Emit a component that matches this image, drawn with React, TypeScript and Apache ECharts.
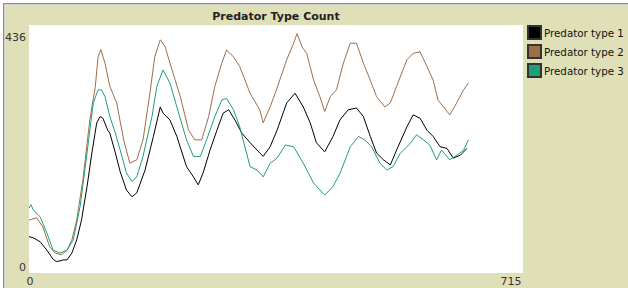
import React, { useEffect, useRef } from "react";
import * as echarts from "echarts";

const title = "Predator Type Count";
const seriesNames = ["Predator type 1", "Predator type 2", "Predator type 3"];
const seriesColors = ["#000000", "#9d6e48", "#1d9f78"];

const xTicks = [0, 715];
const yTicks = [0, 436];

const type1Times = [0, 6, 16, 26, 35, 40, 50, 55, 62, 69, 76, 84, 91, 98, 103, 107, 114, 117, 125, 132, 141, 149, 156, 168, 180, 190, 194, 204, 214, 228, 238, 245, 252, 262, 272, 281, 289, 298, 308, 320, 334, 339, 349, 359, 373, 385, 397, 407, 416, 428, 440, 450, 462, 474, 484, 494, 503, 513, 523, 532, 547, 556, 566, 576, 585, 595, 605, 614, 624, 634];
const type1Counts = [64, 62, 55, 40, 24, 20, 23, 23, 35, 58, 93, 152, 211, 264, 275, 272, 251, 246, 211, 178, 146, 134, 141, 181, 240, 292, 281, 269, 240, 187, 169, 155, 176, 216, 251, 281, 287, 269, 246, 229, 211, 205, 222, 251, 299, 316, 292, 264, 229, 213, 240, 269, 287, 290, 275, 240, 211, 199, 190, 216, 257, 278, 272, 251, 240, 222, 219, 202, 207, 219];

const type2Times = [0, 11, 20, 30, 38, 47, 55, 62, 69, 78, 88, 96, 100, 104, 110, 117, 127, 137, 146, 156, 165, 175, 182, 190, 197, 204, 219, 231, 240, 250, 260, 269, 279, 286, 296, 305, 320, 334, 339, 349, 359, 373, 383, 388, 395, 402, 412, 421, 428, 436, 445, 455, 465, 474, 484, 494, 503, 515, 523, 532, 547, 556, 566, 576, 585, 592, 600, 609, 619, 629, 636];
const type2Counts = [93, 97, 81, 46, 35, 32, 40, 58, 93, 164, 269, 328, 380, 393, 369, 328, 299, 234, 193, 199, 234, 316, 380, 410, 398, 369, 310, 251, 234, 234, 275, 328, 369, 392, 380, 363, 316, 287, 264, 292, 325, 375, 404, 421, 398, 386, 339, 310, 284, 310, 322, 369, 404, 404, 369, 339, 310, 292, 299, 328, 375, 386, 389, 363, 339, 304, 292, 278, 299, 322, 334];

const type3Times = [0, 3, 6, 16, 26, 35, 45, 55, 64, 74, 84, 93, 100, 105, 110, 117, 125, 132, 141, 149, 156, 165, 178, 185, 194, 204, 214, 228, 238, 248, 257, 269, 279, 286, 296, 305, 320, 330, 339, 349, 359, 371, 383, 397, 412, 428, 440, 450, 465, 477, 486, 496, 508, 518, 527, 537, 552, 561, 571, 580, 590, 597, 609, 619, 629, 636];
const type3Counts = [114, 120, 111, 99, 70, 40, 35, 40, 58, 117, 211, 299, 322, 322, 310, 275, 246, 216, 176, 161, 169, 205, 275, 328, 357, 334, 292, 234, 205, 205, 234, 275, 304, 307, 287, 257, 187, 181, 169, 193, 202, 225, 222, 193, 158, 137, 152, 175, 222, 240, 234, 222, 193, 181, 187, 210, 228, 243, 234, 225, 199, 216, 199, 207, 216, 234];

const timesList = [type1Times, type2Times, type3Times];
const countsList = [type1Counts, type2Counts, type3Counts];

const FONT = "DejaVu Sans";

export default function App() {
  const ref = useRef<HTMLDivElement>(null);
  useEffect(() => {
    if (!ref.current) return;
    const chart = echarts.init(ref.current, undefined, { renderer: "svg" });
    const gridLeft = 29, gridTop = 25, gridW = 494, gridH = 248;
    chart.setOption({
      animation: false,
      backgroundColor: "transparent",
      textStyle: { fontFamily: FONT },
      grid: {
        left: gridLeft,
        top: gridTop,
        width: gridW,
        height: gridH,
        show: true,
        backgroundColor: "#ffffff",
        borderWidth: 0,
      },
      xAxis: {
        type: "value",
        min: xTicks[0],
        max: xTicks[1],
        interval: xTicks[1] - xTicks[0],
        axisLine: { show: false },
        axisTick: { show: false },
        splitLine: { show: false },
        axisLabel: {
          margin: 3,
          color: "#333",
          fontFamily: FONT,
          fontSize: 11,
          formatter: (v: number) => (v === xTicks[1] ? "{mx|" + v + "}" : "{mn|" + v + "}"),
          rich: {
            mx: { fontFamily: FONT, fontSize: 11, color: "#333", padding: [0, 24, 0, 0] },
            mn: { fontFamily: FONT, fontSize: 11, color: "#333", padding: [0, 0, 0, 2] },
          },
        },
      },
      yAxis: {
        type: "value",
        min: yTicks[0],
        max: yTicks[1],
        interval: yTicks[1] - yTicks[0],
        axisLine: { show: false },
        axisTick: { show: false },
        splitLine: { show: false },
        axisLabel: {
          margin: 3,
          color: "#333",
          fontFamily: FONT,
          fontSize: 11,
          formatter: (v: number) => (v === yTicks[1] ? "{mx|" + v + "}" : "{mn|" + v + "}"),
          rich: {
            mx: { fontFamily: FONT, fontSize: 11, color: "#333", padding: [24, 0, 0, 0] },
            mn: { fontFamily: FONT, fontSize: 11, color: "#333", padding: [0, 0, 12, 0] },
          },
        },
      },
      legend: {
        orient: "vertical",
        left: 527,
        top: 25,
        padding: 0,
        itemWidth: 13,
        itemHeight: 13,
        itemGap: 4,
        icon: "rect",
        textStyle: { fontFamily: FONT, fontSize: 10.3, lineHeight: 13, color: "#111", padding: [0, 0, 0, -2] },
        data: seriesNames,
      },
      graphic: [
        {
          type: "text",
          x: 276,
          y: 16,
          style: {
            text: title,
            textAlign: "center",
            textVerticalAlign: "middle",
            font: "bold 11px " + FONT,
            fill: "#222",
          },
        },
      ],
      series: seriesNames.map((name, i) => ({
        name,
        type: "line",
        showSymbol: false,
        symbol: "none",
        color: seriesColors[i],
        lineStyle: { width: 1, color: seriesColors[i] },
        itemStyle: { color: seriesColors[i], borderColor: "#333", borderWidth: 1 },
        data: timesList[i].map((t, j) => [t, countsList[i][j]]),
      })),
    });
    return () => chart.dispose();
  }, []);
  return (
    <div style={{ position: "absolute", left: 0, top: 0, width: 628, height: 288, background: "#ffffff", overflow: "hidden" }}>
      <div
        style={{
          position: "absolute",
          left: 3,
          top: 3,
          width: 700,
          height: 400,
          background: "#e0e0b8",
          borderLeft: "1px solid #8c8c8c",
          borderTop: "1px solid #8c8c8c",
          boxShadow: "inset 1px 1px 0 #cfcfcf",
        }}
      />
      <div ref={ref} style={{ position: "absolute", left: 0, top: 0, width: 628, height: 288 }} />
    </div>
  );
}
